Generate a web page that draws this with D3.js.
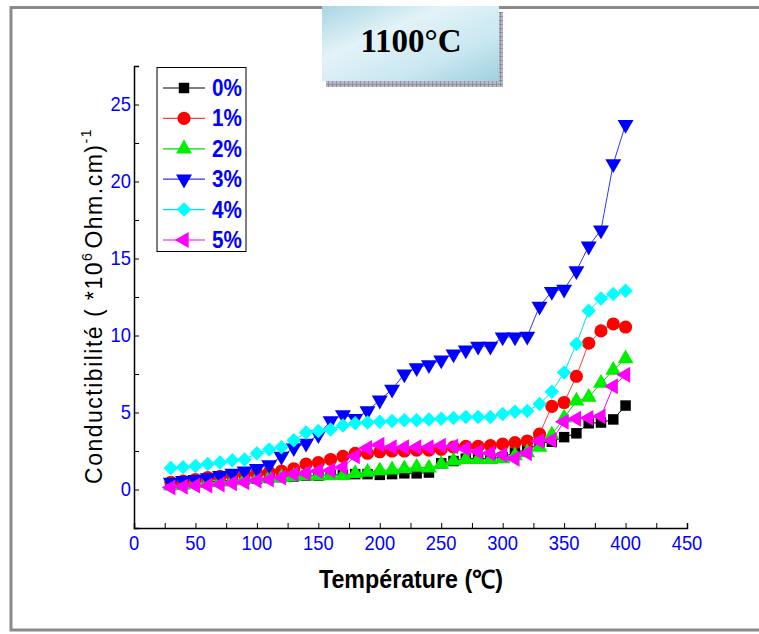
<!DOCTYPE html>
<html><head><meta charset="utf-8">
<script src="https://cdn.jsdelivr.net/npm/d3@7"></script>
<style>body{margin:0;background:#fff}svg{display:block}</style>
</head><body>
<svg id="c" width="759" height="634"></svg>
<script>
const temps = [30,40,50,60,70,80,90,100,110,120,130,140,150,160,170,180,190,200,210,220,230,240,250,260,270,280,290,300,310,320,330,340,350,360,370,380,390,400];
const s0 = [0.3,0.35,0.45,0.5,0.55,0.6,0.65,0.7,0.75,0.8,0.85,0.9,0.9,0.95,0.95,1.0,1.0,0.95,1.0,1.05,1.05,1.1,1.7,1.85,2.0,2.0,2.0,2.1,2.4,2.6,3.0,3.1,3.4,3.65,4.3,4.35,4.55,5.45];
const s1 = [0.47,0.55,0.65,0.78,0.85,0.9,1.0,1.05,1.12,1.2,1.35,1.65,1.75,1.95,2.15,2.35,2.35,2.45,2.5,2.5,2.55,2.55,2.6,2.75,2.8,2.8,2.85,2.95,3.05,3.15,3.6,5.4,5.65,7.35,9.5,10.3,10.75,10.55];
const s2 = [0.25,0.3,0.4,0.45,0.5,0.58,0.65,0.7,0.75,0.78,0.85,0.88,0.88,0.92,0.92,1.05,1.12,1.22,1.28,1.35,1.45,1.4,1.65,1.85,1.95,1.95,1.95,2.0,2.2,2.4,2.75,3.55,4.65,5.75,6.0,6.9,7.75,8.5];
const s3 = [0.47,0.58,0.65,0.75,0.9,1.05,1.2,1.35,1.6,2.15,2.7,3.0,3.55,4.45,4.85,4.6,5.1,5.8,6.5,7.5,7.9,8.1,8.4,8.8,9.05,9.3,9.3,9.9,9.9,9.95,11.9,12.85,13.0,14.2,15.8,16.85,21.15,23.7];
const s4 = [1.4,1.45,1.52,1.65,1.75,1.9,1.95,2.35,2.6,2.75,3.2,3.7,3.8,3.9,4.15,4.3,4.35,4.4,4.45,4.5,4.5,4.55,4.6,4.65,4.7,4.7,4.7,4.9,5.05,5.1,5.55,6.35,7.6,9.45,11.6,12.4,12.7,12.9];
const s5 = [0.13,0.18,0.25,0.25,0.33,0.4,0.47,0.58,0.65,0.78,1.0,1.05,1.2,1.23,1.45,2.15,2.7,2.9,2.75,2.75,2.75,2.75,2.85,2.8,2.65,2.45,2.35,2.25,2.0,2.35,3.15,3.2,4.4,4.6,4.65,4.75,6.7,7.45];
const seriesNames = ["0%","1%","2%","3%","4%","5%"];
const seriesColors = ["#000000","#ff0000","#00ee00","#0000ff","#00ffff","#ff00ff"];
const lineColors = ["#000000","#ff4040","#00dd00","#3333ff","#00e0e0","#ff00ff"];
const xTicks = [0,50,100,150,200,250,300,350,400,450];
const yTicks = [0,5,10,15,20,25];
const titleText = "1100°C";
const xLabel = "Température (℃)";

const svg = d3.select("#c");
// outer frame
svg.append("rect").attr("x",11).attr("y",7.5).attr("width",760).attr("height",622.5)
  .attr("fill","none").attr("stroke","#8a8a8a").attr("stroke-width",3);

const x = d3.scaleLinear().domain([0,450]).range([134,687]);
const y = d3.scaleLinear().domain([-2.5,27.5]).range([528,66]);

// axes
const xAxis = d3.axisBottom(x).tickValues(d3.range(0,451,25)).tickSize(-5).tickFormat("");
const gx = svg.append("g").attr("transform","translate(0,528)").call(xAxis);
gx.select(".domain").attr("stroke","#000").attr("stroke-width",1.5);
gx.selectAll(".tick line").attr("stroke","#000");
svg.append("g").selectAll("text").data(xTicks).join("text")
  .attr("x",d=>x(d)).attr("y",550).attr("text-anchor","middle")
  .attr("font-family","Liberation Sans, Arial").attr("font-size",20)
  .attr("fill","#0000ff").attr("transform",d=>`translate(${x(d)},0) scale(0.92,1) translate(${-x(d)},0)`).text(d=>d);

const yAxis = d3.axisLeft(y).tickValues(d3.range(-2.5,27.6,2.5)).tickSize(-5).tickFormat("");
const gy = svg.append("g").attr("transform","translate(134,0)").call(yAxis);
gy.select(".domain").attr("stroke","#000").attr("stroke-width",1.5);
gy.selectAll(".tick line").attr("stroke","#000");
svg.append("g").selectAll("text").data(yTicks).join("text")
  .attr("x",131).attr("y",d=>y(d)+7).attr("text-anchor","end")
  .attr("font-family","Liberation Sans, Arial").attr("font-size",20)
  .attr("fill","#0000ff").attr("transform","translate(131,0) scale(0.92,1) translate(-131,0)").text(d=>d);

// axis labels
svg.append("text").attr("x",411).attr("y",588).attr("text-anchor","middle")
  .attr("font-family","Liberation Sans, Arial").attr("font-weight","bold")
  .attr("font-size",25).attr("fill","#000")
  .attr("transform","translate(411,0) scale(0.93,1) translate(-411,0)").text(xLabel);

const yl = svg.append("text").attr("transform","translate(102,306) rotate(-90)")
  .attr("text-anchor","middle").attr("font-family","Liberation Sans, Arial")
  .attr("font-size",23).attr("fill","#000").attr("letter-spacing",1.5);
yl.append("tspan").text("Conductibilité ( *10");
yl.append("tspan").attr("font-size",14).attr("dy",-10).text("6");
yl.append("tspan").attr("dy",10).attr("dx",3).text("Ohm.cm)");
yl.append("tspan").attr("font-size",14).attr("dy",-11).text("-1");

// symbols
const symDefs = [
  {t:d3.symbolSquare,s:110,r:0},
  {t:d3.symbolCircle,s:135,r:0},
  {t:d3.symbolTriangle,s:110,r:0},
  {t:d3.symbolTriangle,s:110,r:180},
  {t:d3.symbolSquare,s:105,r:45},
  {t:d3.symbolTriangle,s:110,r:-90}
];
const allSeries = [s0,s1,s2,s3,s4,s5];
const line = d3.line().x((d,i)=>x(temps[i])).y(d=>y(d));
allSeries.forEach((vals,k)=>{
  const g = svg.append("g");
  g.append("path").attr("d",line(vals)).attr("fill","none").attr("stroke",lineColors[k]).attr("stroke-width",1);
  g.selectAll("path.m").data(vals).join("path").attr("class","m")
    .attr("d",d3.symbol().type(symDefs[k].t).size(symDefs[k].s))
    .attr("transform",(d,i)=>`translate(${x(temps[i])},${y(d)}) rotate(${symDefs[k].r})`)
    .attr("fill",seriesColors[k]);
});

// legend
const lg = svg.append("g");
lg.append("rect").attr("x",157).attr("y",67.5).attr("width",89).attr("height",184)
  .attr("fill","#fff").attr("stroke","#000").attr("stroke-width",1);
seriesNames.forEach((n,k)=>{
  const yy = 88 + k*30.4;
  lg.append("line").attr("x1",163).attr("x2",205).attr("y1",yy).attr("y2",yy)
    .attr("stroke",lineColors[k]).attr("stroke-width",1.2);
  lg.append("path").attr("d",d3.symbol().type(symDefs[k].t).size(symDefs[k].s)())
    .attr("transform",`translate(184,${yy}) rotate(${symDefs[k].r})`).attr("fill",seriesColors[k]);
  lg.append("text").attr("x",212).attr("y",yy+8).attr("font-family","Liberation Sans, Arial")
    .attr("font-weight","bold").attr("font-size",23).attr("fill","#0000ff")
    .attr("transform",`translate(212,0) scale(0.9,1) translate(-212,0)`).text(n);
});

// title box
const defs = svg.append("defs");
const gr = defs.append("linearGradient").attr("id","tg").attr("x1","0").attr("y1","0").attr("x2","1").attr("y2","1");
gr.append("stop").attr("offset","0").attr("stop-color","#a9d5e2");
gr.append("stop").attr("offset","0.35").attr("stop-color","#e3f3f8");
gr.append("stop").attr("offset","0.7").attr("stop-color","#c9e7f0");
gr.append("stop").attr("offset","1").attr("stop-color","#9fd0de");
const pat = defs.append("pattern").attr("id","hp").attr("width",4).attr("height",4).attr("patternUnits","userSpaceOnUse");
pat.append("rect").attr("width",4).attr("height",4).attr("fill","#b8b8c8");
pat.append("path").attr("d","M0,0H4M0,0V4").attr("stroke","#6c7080").attr("stroke-width",1);
svg.append("rect").attr("x",326).attr("y",12).attr("width",177).attr("height",75).attr("fill","url(#hp)");
svg.append("rect").attr("x",322).attr("y",6).attr("width",177).attr("height",75).attr("fill","url(#tg)");
svg.append("text").attr("x",411).attr("y",52).attr("text-anchor","middle")
  .attr("font-family","Liberation Serif, Times New Roman").attr("font-weight","bold")
  .attr("font-size",33).attr("fill","#000").text(titleText);
</script>
</body></html>
